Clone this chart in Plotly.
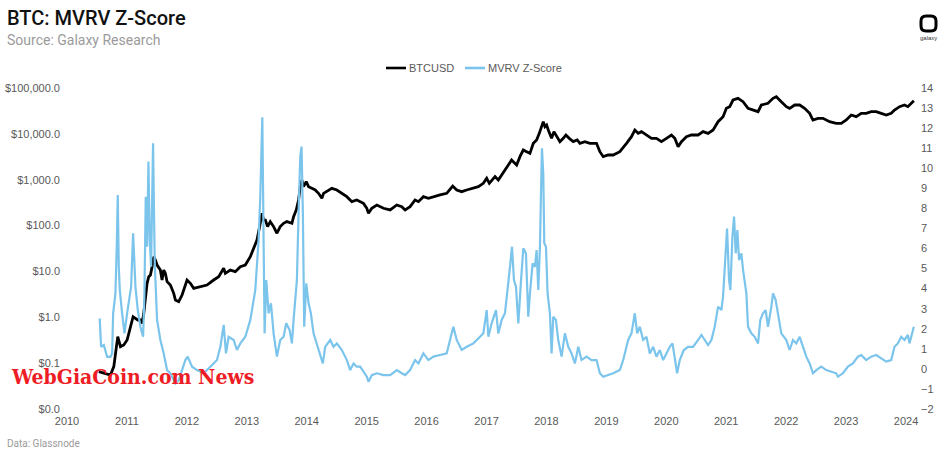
import plotly.graph_objects as go

# ---------------- data ----------------
btc_year = [
    2010.531, 2010.614, 2010.725, 2010.781, 2010.820, 2010.847, 2010.892, 2010.947,
    2011.003, 2011.058, 2011.103, 2011.142, 2011.181, 2011.225, 2011.253, 2011.281, 2011.308, 2011.336,
    2011.364, 2011.392, 2011.420, 2011.448, 2011.475, 2011.503, 2011.558, 2011.586, 2011.614, 2011.642,
    2011.670, 2011.725, 2011.781, 2011.809, 2011.864, 2011.920,
    2012.003, 2012.059, 2012.114, 2012.225, 2012.336, 2012.447, 2012.531, 2012.614, 2012.642, 2012.725,
    2012.809, 2012.892, 2012.975,
    2013.059, 2013.114, 2013.170, 2013.225, 2013.253, 2013.281, 2013.310, 2013.347, 2013.392, 2013.447,
    2013.503, 2013.558, 2013.614, 2013.669, 2013.753, 2013.781, 2013.825, 2013.864, 2013.892, 2013.919,
    2013.947, 2013.992,
    2014.031, 2014.086, 2014.142, 2014.197, 2014.253, 2014.281, 2014.364, 2014.419, 2014.503, 2014.586,
    2014.669, 2014.753, 2014.836, 2014.947,
    2015.003, 2015.031, 2015.086, 2015.170, 2015.281, 2015.392, 2015.503, 2015.586, 2015.642, 2015.725,
    2015.808, 2015.864, 2015.947,
    2016.031, 2016.114, 2016.225, 2016.336, 2016.436, 2016.503, 2016.586, 2016.669, 2016.781, 2016.864,
    2016.947,
    2017.003, 2017.047, 2017.142, 2017.197, 2017.253, 2017.308, 2017.364, 2017.419, 2017.447, 2017.503,
    2017.558, 2017.614, 2017.669, 2017.725, 2017.781, 2017.836, 2017.881, 2017.919, 2017.947, 2017.975,
    2018.003, 2018.031, 2018.058, 2018.086, 2018.125, 2018.169, 2018.225, 2018.281, 2018.325, 2018.381,
    2018.447, 2018.514, 2018.558, 2018.642, 2018.725, 2018.836, 2018.892, 2018.947,
    2019.031, 2019.114, 2019.225, 2019.336, 2019.419, 2019.475, 2019.531, 2019.586, 2019.669, 2019.753,
    2019.836, 2019.919,
    2020.003, 2020.086, 2020.142, 2020.197, 2020.253, 2020.336, 2020.419, 2020.531, 2020.614, 2020.697,
    2020.781, 2020.864, 2020.947,
    2021.003, 2021.058, 2021.114, 2021.197, 2021.281, 2021.364, 2021.447, 2021.531, 2021.586, 2021.697,
    2021.781, 2021.836, 2021.919,
    2022.003, 2022.058, 2022.142, 2022.225, 2022.308, 2022.392, 2022.447, 2022.531, 2022.614, 2022.725,
    2022.836, 2022.919,
    2023.003, 2023.086, 2023.169, 2023.253, 2023.336, 2023.419, 2023.503, 2023.586, 2023.669, 2023.753,
    2023.808, 2023.892, 2023.975, 2024.031, 2024.086, 2024.131,
]
btc_price = [
    0.065, 0.060, 0.055, 0.084, 0.229, 0.378, 0.229, 0.249,
    0.32, 0.574, 1.03, 0.95, 0.873, 0.873, 0.738, 1.22, 2.82, 5.51,
    7.69, 8.36, 12.7, 21.0, 17.7, 13.8, 10.7, 6.5, 10.7, 9.08,
    5.98, 5.06, 3.33, 2.38, 2.19, 3.06,
    6.5, 5.51, 4.28, 4.66, 5.06, 6.5, 7.69, 11.7, 9.08, 10.7,
    9.89, 12.7, 13.8,
    21.0, 31.9, 48.4, 112, 185, 132, 132, 94.6, 122, 95,
    68, 95, 112, 122, 112, 156, 219, 361, 705, 986,
    705, 908,
    705, 649, 597, 505, 393, 505, 597, 649, 597, 505,
    427, 332, 361, 305,
    238, 185, 238, 281, 238, 219, 281, 258, 219, 258,
    361, 332, 427,
    393, 427, 465, 505, 729, 597, 548, 597, 649, 705,
    834,
    1072, 834, 1167, 986, 1268, 1629, 2094, 2692, 2477, 2094,
    3184, 4446, 4093, 3758, 6209, 7345, 10257, 14355, 18450, 14355,
    15600, 12134, 10257, 7980, 11170, 8690, 6761, 7980, 9440, 7980,
    6761, 7345, 6209, 6761, 6209, 6209, 4093, 3184,
    3459, 3459, 4093, 6209, 8690, 12134, 10257, 11170, 9440, 7980,
    7980, 6761,
    7980, 9440, 7980, 5260, 6761, 8690, 9440, 9440, 11170, 10257,
    12134, 18450, 23714,
    36058, 39174, 54702, 59566, 50350, 36058, 33113, 30479, 42560, 46345,
    59566, 64714, 50350,
    39174, 36058, 42560, 42560, 36058, 28054, 20045, 21777, 21777, 18450,
    16982, 16982,
    20045, 25763, 23714, 28054, 28054, 30479, 30479, 28054, 25763, 28054,
    33113, 39174, 42560, 39174, 46345, 52966,
]

mvrv_year = [
    2010.545, 2010.569, 2010.614, 2010.670, 2010.725, 2010.753, 2010.770, 2010.808, 2010.830, 2010.847,
    2010.864, 2010.881, 2010.920, 2010.959,
    2011.003, 2011.042, 2011.070, 2011.103, 2011.125, 2011.142, 2011.181, 2011.225, 2011.270, 2011.292,
    2011.314, 2011.336, 2011.359, 2011.381, 2011.403, 2011.436, 2011.464, 2011.503, 2011.558, 2011.614,
    2011.670, 2011.725, 2011.809, 2011.864, 2011.920, 2011.975,
    2012.014, 2012.086, 2012.170, 2012.281, 2012.392, 2012.503, 2012.559, 2012.614, 2012.653, 2012.697,
    2012.781, 2012.836, 2012.892, 2012.975,
    2013.059, 2013.142, 2013.197, 2013.225, 2013.259, 2013.281, 2013.297, 2013.325, 2013.364, 2013.403,
    2013.447, 2013.503, 2013.558, 2013.614, 2013.658, 2013.714, 2013.753, 2013.781, 2013.808, 2013.836,
    2013.864, 2013.892, 2013.914, 2013.936, 2013.958, 2013.975, 2013.992,
    2014.031, 2014.069, 2014.114, 2014.169, 2014.225, 2014.269, 2014.308, 2014.392, 2014.447, 2014.503,
    2014.586, 2014.670, 2014.725, 2014.781, 2014.836, 2014.892, 2014.947,
    2015.003, 2015.031, 2015.086, 2015.170, 2015.281, 2015.392, 2015.503, 2015.586, 2015.642, 2015.725,
    2015.808, 2015.864, 2015.947,
    2016.031, 2016.114, 2016.225, 2016.336, 2016.419, 2016.447, 2016.503, 2016.586, 2016.669, 2016.781,
    2016.892, 2016.947,
    2017.003, 2017.031, 2017.086, 2017.158, 2017.197, 2017.253, 2017.308, 2017.347, 2017.392, 2017.425,
    2017.458, 2017.492, 2017.531, 2017.569, 2017.614, 2017.658, 2017.697, 2017.725, 2017.769, 2017.808,
    2017.836, 2017.864, 2017.892, 2017.908, 2017.925, 2017.947, 2017.964, 2017.992,
    2018.019, 2018.058, 2018.086, 2018.114, 2018.158, 2018.197, 2018.253, 2018.308, 2018.364, 2018.419,
    2018.475, 2018.531, 2018.586, 2018.669, 2018.753, 2018.836, 2018.892, 2018.947,
    2019.031, 2019.114, 2019.225, 2019.281, 2019.364, 2019.419, 2019.475, 2019.514, 2019.558, 2019.614,
    2019.669, 2019.725, 2019.781, 2019.836, 2019.892, 2019.947,
    2020.003, 2020.058, 2020.103, 2020.142, 2020.181, 2020.225, 2020.292, 2020.364, 2020.447, 2020.531,
    2020.586, 2020.642, 2020.697, 2020.753, 2020.808, 2020.864, 2020.919, 2020.947, 2020.992,
    2021.014, 2021.047, 2021.069, 2021.103, 2021.131, 2021.158, 2021.186, 2021.214, 2021.253, 2021.281,
    2021.308, 2021.336, 2021.364, 2021.419, 2021.475, 2021.531, 2021.569, 2021.614, 2021.658, 2021.697,
    2021.753, 2021.781, 2021.825, 2021.864, 2021.919,
    2022.003, 2022.058, 2022.114, 2022.169, 2022.225, 2022.281, 2022.336, 2022.392, 2022.447, 2022.503,
    2022.586, 2022.669, 2022.753, 2022.836, 2022.864, 2022.947,
    2023.031, 2023.114, 2023.197, 2023.253, 2023.336, 2023.419, 2023.503, 2023.586, 2023.669, 2023.753,
    2023.808, 2023.864, 2023.919, 2023.975, 2024.031, 2024.058, 2024.103, 2024.131,
]
mvrv_z = [
    2.52, 1.10, 1.19, 0.60, 0.60, 0.77, 2.77, 3.76, 6.09, 8.67,
    5.09, 3.93, 2.77, 1.77,
    2.77, 3.60, 4.10, 6.76, 5.09, 4.10, 2.93, 2.10, 1.60, 3.76,
    8.58, 6.09, 10.33, 6.42, 5.09, 11.24, 5.26, 2.44, 1.44, 0.77,
    -0.06, -0.22, -0.72, -0.56, -0.06, 0.44,
    0.61, 0.11, -0.06, -0.22, 0.11, 0.44, 1.10, 2.19, 0.77, 1.60,
    1.44, 0.94, 1.27, 1.60,
    2.44, 3.93, 6.42, 8.58, 12.54, 6.09, 1.77, 4.43, 2.77, 3.27,
    1.77, 0.61, 1.44, 1.60, 2.27, 1.94, 1.27, 2.44, 3.60, 4.43,
    7.75, 10.58, 11.08, 7.75, 2.10, 3.60, 4.26,
    3.27, 2.77, 1.77, 1.27, 0.77, 0.27, 1.10, 1.44, 1.10, 1.27,
    0.94, 0.44, -0.06, 0.27, 0.11, 0.11, -0.14,
    -0.39, -0.64, -0.31, -0.22, -0.31, -0.31, -0.06, -0.22, -0.31, -0.06,
    0.44, 0.27, 0.77,
    0.44, 0.61, 0.69, 0.77, 1.77, 2.10, 1.44, 0.94, 1.10, 1.27,
    1.60, 1.77,
    2.93, 1.60, 2.27, 2.93, 1.77, 2.44, 2.77, 3.76, 5.09, 6.09,
    4.43, 4.10, 2.27, 4.10, 6.01, 5.76, 2.60, 3.76, 5.26, 5.09,
    5.92, 3.93, 6.09, 8.58, 10.99, 9.75, 6.26, 6.09,
    3.76, 2.77, 0.77, 2.60, 2.44, 1.44, 0.61, 1.77, 1.10, 0.77,
    0.27, 1.10, 0.44, 0.61, 0.44, 0.44, -0.22, -0.39,
    -0.31, -0.22, -0.06, 0.44, 1.44, 1.77, 2.77, 1.77, 2.10, 1.44,
    1.60, 0.77, 1.10, 0.61, 0.94, 0.44,
    0.77, 1.10, 1.27, 0.61, -0.22, 0.44, 0.94, 1.10, 1.10, 1.44,
    1.69, 1.44, 1.19, 1.44, 2.10, 3.10, 2.93, 3.60, 6.09,
    7.00, 4.43, 3.93, 6.59, 7.59, 5.76, 6.92, 5.42, 5.76, 4.93,
    4.43, 3.76, 2.10, 1.77, 1.60, 1.27, 2.44, 2.77, 2.93, 2.10,
    3.10, 3.76, 3.43, 2.77, 1.77,
    1.44, 0.94, 1.44, 1.27, 1.60, 1.10, 0.61, 0.27, -0.22, -0.06,
    0.11, -0.06, -0.14, -0.22, -0.39, -0.22,
    0.11, 0.27, 0.61, 0.69, 0.44, 0.61, 0.69, 0.52, 0.36, 0.44,
    1.10, 1.27, 1.60, 1.44, 1.69, 1.27, 1.77, 2.10,
]

series_names = ["BTCUSD", "MVRV Z-Score"]
series_colors = ["#000000", "#7BC4EC"]
year_ticks = list(range(2010, 2025))
price_tickvals = [0.01, 0.1, 1, 10, 100, 1000, 10000, 100000]
price_ticktext = ["$0.0", "$0.1", "$1.0", "$10.0", "$100.0", "$1,000.0", "$10,000.0", "$100,000.0"]
z_ticks = list(range(-2, 15))

# ---------------- layout helpers ----------------
W, H = 945, 455
ML, MR, MB = 67, 30, 46      # margins (px)
MT = 4                       # small top margin; plot top set via domain
PLOT_TOP = 88                # pixel row of the plot area's top edge
PW = W - ML - MR
PH = H - MT - MB             # paper height
dom_top = (H - MB - PLOT_TOP) / PH


def px(x):
    return (x - ML) / PW


def py(y):
    return (H - MB - y) / PH


GREY = "#595959"
LIGHT = "#9b9b9b"
FONT = "Liberation Sans, Arial, sans-serif"

fig = go.Figure()
fig.add_trace(go.Scatter(
    x=btc_year, y=btc_price, name=series_names[0], mode="lines",
    line=dict(color=series_colors[0], width=2.8), yaxis="y", showlegend=False,
))
fig.add_trace(go.Scatter(
    x=mvrv_year, y=mvrv_z, name=series_names[1], mode="lines",
    line=dict(color=series_colors[1], width=2.2), yaxis="y2", showlegend=False,
))

# logo: rounded square outline
x0, x1, y0, y1, r = 921, 936, 16, 31, 5
rx = r / PW
ry = r / PH
X0, X1, Y0, Y1 = px(x0), px(x1), py(y0), py(y1)
path = (f"M {X0+rx},{Y0} L {X1-rx},{Y0} Q {X1},{Y0} {X1},{Y0-ry} "
        f"L {X1},{Y1+ry} Q {X1},{Y1} {X1-rx},{Y1} L {X0+rx},{Y1} "
        f"Q {X0},{Y1} {X0},{Y1+ry} L {X0},{Y0-ry} Q {X0},{Y0} {X0+rx},{Y0} Z")

shapes = [dict(type="path", xref="paper", yref="paper", path=path,
               line=dict(color="black", width=3), fillcolor="rgba(0,0,0,0)")]

annotations = [
    dict(text="BTC: MVRV Z-Score", xref="paper", yref="paper", x=px(5), y=py(18),
         xanchor="left", yanchor="middle", showarrow=False,
         font=dict(family="Roboto, sans-serif", size=20, color="#111111", weight=500)),
    dict(text="Source: Galaxy Research", xref="paper", yref="paper", x=px(5), y=py(40),
         xanchor="left", yanchor="middle", showarrow=False,
         font=dict(family="Roboto, sans-serif", size=14, color=LIGHT)),
    dict(text="Data: Glassnode", xref="paper", yref="paper", x=px(5), y=py(443),
         xanchor="left", yanchor="middle", showarrow=False,
         font=dict(family="Roboto, sans-serif", size=10, color=LIGHT)),
    dict(text="galaxy", xref="paper", yref="paper", x=px(928.5), y=py(38),
         xanchor="center", yanchor="middle", showarrow=False,
         font=dict(family=FONT, size=6, color="#333333")),
    dict(text="<b>WebGiaCoin.com News</b>", xref="paper", yref="paper", x=px(9), y=py(376),
         xanchor="left", yanchor="middle", showarrow=False,
         font=dict(family="DejaVu Serif Condensed, DejaVu Serif, serif", size=21, color="#EE1C25")),
]

# legend drawn as line samples + labels, centred above the plot
legend_x = [386, 465]
for lx, name, col in zip(legend_x, series_names, series_colors):
    shapes.append(dict(type="line", xref="paper", yref="paper",
                       x0=px(lx), x1=px(lx + 20), y0=py(68), y1=py(68),
                       line=dict(color=col, width=2.6)))
    annotations.append(dict(text=name, xref="paper", yref="paper", x=px(lx + 21), y=py(68),
                            xanchor="left", yanchor="middle", showarrow=False,
                            font=dict(family=FONT, size=11, color=GREY)))

fig.update_layout(
    width=W, height=H,
    margin=dict(l=ML, r=MR, t=MT, b=MB, autoexpand=False),
    paper_bgcolor="white", plot_bgcolor="white",
    font=dict(family=FONT, size=11, color=GREY),
    showlegend=False,
    xaxis=dict(range=[2010, 2024.15], tickvals=year_ticks,
               ticktext=[str(v) for v in year_ticks], automargin=False,
               showgrid=False, zeroline=False, showline=False, ticks="",
               ticklabelstandoff=4,
               tickfont=dict(size=11, color=GREY)),
    yaxis=dict(type="log", range=[-2, 5], domain=[0, dom_top], tickvals=price_tickvals,
               ticktext=price_ticktext, showgrid=False, zeroline=False, automargin=False,
               showline=False, ticks="", ticklabelstandoff=6,
               tickfont=dict(size=11, color=GREY)),
    yaxis2=dict(overlaying="y", side="right", anchor="x", range=[-2, 14], tickvals=z_ticks,
                showgrid=False, zeroline=False, showline=False, ticks="", automargin=False,
                ticklabelposition="outside", ticklabelstandoff=5,
                tickfont=dict(size=11, color=GREY)),
    shapes=shapes,
    annotations=annotations,
)

fig.write_html("out.html")
